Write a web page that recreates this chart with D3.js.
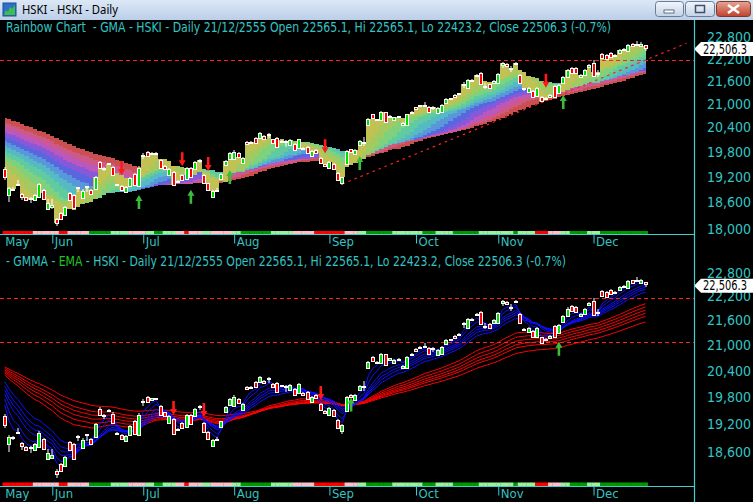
<!DOCTYPE html>
<html><head><meta charset="utf-8">
<script src="https://cdn.jsdelivr.net/npm/d3@7"></script>
<style>
html,body{margin:0;padding:0;background:#000;overflow:hidden}
svg{display:block}
text{font-family:"Liberation Sans Narrow","Arial Narrow","DejaVu Sans Condensed",sans-serif}
</style></head><body>
<svg id="c" width="753" height="502"></svg>
<script>
// ---------------- DATA ----------------
const openP = [19372,18769,18920,19035,18790,18715,18710,18654,18716,18885,18456,18487,18216,18350,18312,18808,18769,18950,18693,18985,
18885,18915,19541,19405,19515,19436,19015,18978,18839,18978,19261,18978,19720,19798,19735,19755,19596,19460,19237,19316,
19100,19237,19150,19410,19380,19600,19237,19040,18730,18875,19150,19470,19630,19610,19760,19517,20030,20000,20144,20140,
20175,20245,20100,20125,20065,20062,19962,19986,19895,19895,19920,19684,19839,19650,19490,19397,19508,19292,19060,19500,
19855,19742,19962,20045,20460,20731,20610,20586,20782,20655,20586,20675,20460,20460,20765,20910,20965,20972,20927,20930,
20765,20800,21030,21140,21230,21270,21530,21404,21610,21760,21805,21470,21511,21537,21537,22030,22045,21940,22050,21760,
21400,21320,21343,21195,21187,21160,21165,21466,21290,21555,21715,21955,21940,21700,21760,21985,22074,21805,22329,22300,
22345,22305,22365,22445,22400,22600,22610,22540,22565.1];
const highP = [19436,18960,18950,19119,18810,18730,18730,18790,19060,18910,18670,18677,18245,18380,18520,18840,18790,18960,18900,18990,
18910,19220,19570,19420,19530,19460,19030,19000,18970,19180,19290,19440,19765,19820,19790,19790,19620,19480,19400,19340,
19110,19260,19430,19430,19560,19620,19260,19060,18890,18932,19280,19600,19780,19850,19780,19660,20050,20060,20170,20275,
20200,20260,20120,20150,20080,20080,20100,20010,20120,19910,19940,19830,19860,19670,19510,19580,19530,19310,19200,19830,
19870,19860,20080,20160,20630,20750,20620,20820,20800,20710,20670,20690,20540,20750,20810,20930,20980,21047,20950,20950,
20905,20990,21140,21160,21250,21290,21560,21650,21650,21790,21830,21537,21530,21625,21800,22100,22070,22001,22110,21780,
21420,21430,21360,21430,21200,21180,21250,21480,21510,21740,21920,21975,21960,21780,21910,22050,22165,21893,22350,22320,
22370,22330,22460,22480,22600,22620,22690,22650,22565.1];
const lowP = [19119,18615,18860,19000,18654,18630,18592,18630,18700,18650,18430,18460,18066,18200,18290,18630,18440,18845,18670,18850,
18770,18900,19380,19325,19480,19215,18990,18860,18820,18960,18980,18960,19610,19670,19720,19740,19380,19360,19215,18980,
19048,19100,19130,19180,19360,19515,19020,18860,18710,18840,19130,19450,19610,19590,19660,19500,19970,19985,20000,20120,
20090,20125,20000,19900,20040,19920,19940,19815,19880,19840,19740,19665,19755,19500,19440,19380,19370,19100,19000,19480,
19780,19720,19940,19937,20440,20610,20580,20570,20520,20640,20570,20650,20440,20440,20750,20840,20940,20950,20780,20841,
20745,20780,21010,21120,21150,21250,21413,21390,21590,21720,21500,21380,21390,21520,21520,21947,21980,21840,22030,21520,
21340,21300,21170,21180,21040,21100,21150,21170,21270,21540,21700,21805,21790,21680,21740,21970,21700,21710,22190,22160,
22230,22270,22350,22430,22380,22520,22580,22520,22423.2];
const closeP = [19183,18925,18905,19030,18730,18654,18700,18769,19018,18670,18592,18540,18140,18216,18500,18654,18464,18945,18870,18975,
18785,19197,19400,19395,19510,19238,19010,18885,18947,19160,19000,19410,19715,19693,19772,19775,19400,19380,19380,19000,
19090,19119,19410,19198,19540,19595,19040,18885,18870,18865,19261,19580,19760,19798,19680,19636,19990,20040,20020,20250,
20110,20240,20020,19920,20055,20058,20085,19839,20100,19855,19757,19806,19773,19515,19455,19555,19388,19119,19183,19806,
19798,19839,20060,20040,20604,20629,20600,20798,20543,20690,20654,20668,20520,20731,20795,20860,20960,20968,20800,20925,
20885,20970,21117,21135,21170,21265,21525,21625,21630,21755,21519,21462,21404,21607,21778,22075,22000,21935,22075,21537,
21390,21410,21187,21413,21060,21120,21230,21187,21490,21715,21893,21822,21805,21760,21893,22030,21725,21800,22210,22180,
22255,22298,22440,22460,22580,22540,22605,22610,22506.3];

const monthLabels = ["May","Jun","Jul","Aug","Sep","Oct","Nov","Dec"];
const monthIdx    = [0, 11, 32, 53, 75, 95, 114, 136];
const topTicks = [18000,18600,19200,19800,20400,21000,21600,22200,22800];
const botTicks = [18600,19200,19800,20400,21000,21600,22200,22800];

// trend-state strip under the bars (runs of bars)
const stripState = ["R","P","R","P","G","L","P","L","G","L","P","R","P","L","P","L","G","L","P","R","P","L","G","L","G","L","G","L","G","L","R","P","L","G","L","G"];
const stripLen   = [7,6,2,5,5,4,4,2,2,3,2,1,3,2,5,2,7,5,5,7,3,2,6,7,3,4,6,8,1,4,3,3,2,4,3,11];

// indicator settings; levels at the first bar
// rainbow (simple averages): band 0 runs from the close to the fastest average, band 10 between the two slowest
const rainbowPeriods = [6,10,14,18,22,26,30,34,38,42,46];
const rainbowStart   = [19524,19635,19747,19861,19974,20088,20204,20319,20437,20553,20670];
const gmmaShortPeriods = [3,5,8,10,12,15];
const gmmaShortStart   = [19625,19759,19871,19961,20052,20143];
const gmmaLongPeriods  = [30,35,40,45,50,60];
const gmmaLongStart    = [20304,20350,20385,20419,20454,20489];

// signal arrows
const topArrowIdx = [27,31,41,43,47,52,74,82,125,129];
const topArrowDir = ["d","u","d","u","d","u","d","u","d","u"];
const topArrowTip = [19240,18770,19445,18890,19330,19356,19759,19693,21420,21230];
const botArrowIdx = [39,46,73,80,128];
const botArrowDir = ["d","d","d","u","u"];
const botArrowTip = [19404,19357,19736,19790,21085];

// guide lines
const trendIdx = [78, 157.5];
const trendVal = [19026, 22625];
const topLevels = [22150];
const botLevels = [22150, 21070];

const lastClose = 22506.3;
const titleTop = "Rainbow Chart  - GMA - HSKI - Daily 21/12/2555 Open 22565.1, Hi 22565.1, Lo 22423.2, Close 22506.3 (-0.7%)";
const titleBotA = "- GMMA - ", titleBotB = "EMA", titleBotC = " - HSKI - Daily 21/12/2555 Open 22565.1, Hi 22565.1, Lo 22423.2, Close 22506.3 (-0.7%)";

// ---------------- RENDER ----------------
const W = 753, H = 502;
const svg = d3.select("#c");
const defs = svg.append("defs");
svg.append("rect").attr("width", W).attr("height", H).attr("fill", "#000");

const N = closeP.length;
const x = d3.scaleLinear().domain([0, 148]).range([4.7, 645.5]);
const step = x(1) - x(0);
const yTop = d3.scaleLog().domain([18000, 22800]).range([229, 37]);
const yBot = d3.scaleLog().domain([18600, 22800]).range([452.3, 272.7]);
const CYAN = "#35c3c3";
const AXIS = "#3fd0d0";
const FONT = "'Liberation Sans Narrow','Arial Narrow','DejaVu Sans Condensed',sans-serif";

function ema(src, period, start) {
  const a = 2 / (period + 1);
  const out = [start];
  for (let i = 1; i < src.length; i++) out.push(out[i - 1] + a * (src[i] - out[i - 1]));
  return out;
}
// simple average; bars before the first one are stood in for by the level read at the first bar
function sma(src, n, prior) {
  return src.map((_, i) => {
    let s = 0;
    for (let j = i - n + 1; j <= i; j++) s += j >= 0 ? src[j] : prior;
    return s / n;
  });
}

defs.append("clipPath").attr("id", "clipTop").append("rect").attr("x", 0).attr("y", 20).attr("width", 694).attr("height", 210);
defs.append("clipPath").attr("id", "clipBot").append("rect").attr("x", 0).attr("y", 252).attr("width", 694).attr("height", 230);

// ---------- title bar ----------
const tg = defs.append("linearGradient").attr("id", "tbar").attr("x1", 0).attr("y1", 0).attr("x2", 0).attr("y2", 1);
tg.append("stop").attr("offset", "0%").attr("stop-color", "#dce8f6");
tg.append("stop").attr("offset", "100%").attr("stop-color", "#bccfe8");
svg.append("rect").attr("x", 0).attr("y", 0).attr("width", W).attr("height", 20).attr("fill", "url(#tbar)");
svg.append("rect").attr("x", 3).attr("y", 3).attr("width", 13).attr("height", 13).attr("fill", "#2f6fc8").attr("stroke", "#1d4f96");
svg.append("path").attr("d", "M4,15 L6,10 L8,12 L10,7 L12,9 L15,5 L15,15 Z").attr("fill", "#3cc04a");
svg.append("text").attr("x", 22).attr("y", 14).attr("font-size", 12).attr("fill", "#000")
  .style("font-family", "'Noto Sans','DejaVu Sans',sans-serif").attr("textLength", 96).attr("lengthAdjust", "spacingAndGlyphs")
  .text("HSKI - HSKI - Daily");
const bg = defs.append("linearGradient").attr("id", "btn").attr("x1", 0).attr("y1", 0).attr("x2", 0).attr("y2", 1);
bg.append("stop").attr("offset", "0%").attr("stop-color", "#f2f6fb");
bg.append("stop").attr("offset", "100%").attr("stop-color", "#c4d3e6");
const rg = defs.append("linearGradient").attr("id", "btnr").attr("x1", 0).attr("y1", 0).attr("x2", 0).attr("y2", 1);
rg.append("stop").attr("offset", "0%").attr("stop-color", "#e8a494");
rg.append("stop").attr("offset", "100%").attr("stop-color", "#c0412c");
svg.append("rect").attr("x", 655.5).attr("y", 1.5).attr("width", 28).attr("height", 15).attr("rx", 3).attr("fill", "url(#btn)").attr("stroke", "#6a7d98");
svg.append("rect").attr("x", 664).attr("y", 10).attr("width", 10).attr("height", 3).attr("fill", "#fff").attr("stroke", "#40506a").attr("stroke-width", 0.8);
svg.append("rect").attr("x", 685.5).attr("y", 1.5).attr("width", 29).attr("height", 15).attr("rx", 3).attr("fill", "url(#btn)").attr("stroke", "#6a7d98");
svg.append("rect").attr("x", 695.5).attr("y", 5.5).attr("width", 9).attr("height", 7).attr("fill", "none").attr("stroke", "#40506a").attr("stroke-width", 1.5);
svg.append("rect").attr("x", 716.5).attr("y", 1.5).attr("width", 34).attr("height", 15).attr("rx", 3).attr("fill", "url(#btnr)").attr("stroke", "#7a3a30");
svg.append("path").attr("d", "M728,5 L739,13 M739,5 L728,13").attr("stroke", "#fff").attr("stroke-width", 2.6);

// ---------- helpers ----------
function drawCandles(g, y) {
  const cg = g.append("g");
  for (let i = 0; i < N; i++) {
    const R = Math.round(x(i));
    const hi = Math.round(y(highP[i])), lo = Math.round(y(lowP[i]));
    cg.append("rect").attr("x", R - 0.5).attr("y", hi).attr("width", 1).attr("height", Math.max(1, lo - hi)).attr("fill", "#fff");
    const t = Math.round(y(Math.max(openP[i], closeP[i])));
    const b = Math.round(y(Math.min(openP[i], closeP[i])));
    const h = Math.max(2, b - t + 1);
    const up = closeP[i] >= openP[i];
    cg.append("rect").attr("x", R - 2).attr("y", t).attr("width", 4).attr("height", h).attr("fill", "#fff");
    if (h > 2) cg.append("rect").attr("x", R - 1).attr("y", t + 1).attr("width", 2).attr("height", h - 2)
      .attr("fill", up ? "#00e000" : "#ff0000");
  }
}
function drawArrows(g, y, idx, dir, tip) {
  idx.forEach((d, k) => {
    const down = dir[k] === "d";
    const s = down ? -1 : 1;
    const p = `M0,0 L-3.5,${6*s} L-1.3,${6*s} L-1.3,${14*s} L1.3,${14*s} L1.3,${6*s} L3.5,${6*s} Z`;
    g.append("path").attr("d", p).attr("transform", `translate(${x(d)},${y(tip[k])})`)
      .attr("fill", down ? "#ff1a1a" : "#3cbc3c");
  });
}
function drawStrip(yPos) {
  const col = { R: "#ff0000", P: "#ffc0cb", G: "#009a00", L: "#9cf29c" };
  let i = 0;
  stripState.forEach((s, k) => {
    for (let j = 0; j < stripLen[k]; j++, i++) {
      svg.append("rect").attr("x", x(i) - step / 2).attr("y", yPos).attr("width", step + 0.3).attr("height", 3.5).attr("fill", col[s]);
    }
  });
}
function drawXAxis(yPos) {
  svg.append("line").attr("x1", 0).attr("x2", 694).attr("y1", yPos).attr("y2", yPos).attr("stroke", AXIS).attr("stroke-width", 1.2);
  const ax = d3.axisBottom(x).tickValues(monthIdx).tickSize(9).tickFormat((d, i) => monthLabels[i]);
  const g = svg.append("g").attr("transform", `translate(0,${yPos})`).call(ax);
  g.select(".domain").remove();
  g.selectAll(".tick line").attr("stroke", AXIS).attr("opacity", (d, i) => i === 0 ? 0 : 1);
  g.selectAll(".tick text").attr("fill", CYAN).attr("font-size", 13).attr("text-anchor", "start")
    .attr("x", (d, i) => i === 0 ? 0 : 2).attr("y", 2).attr("dy", "0.71em").style("font-family", FONT);
}
function drawYAxis(y, ticks) {
  const ax = d3.axisLeft(y).tickValues(ticks).tickSize(0).tickPadding(0).tickFormat(d3.format(","));
  const g = svg.append("g").attr("transform", "translate(751,0)").call(ax);
  g.select(".domain").remove();
  g.selectAll(".tick text").attr("fill", CYAN).attr("font-size", 14).style("font-family", FONT);
}
function priceBox(y) {
  const cy = y(lastClose) + 1.5;
  svg.append("path").attr("d", `M694,${cy} L701,${cy-7} L753,${cy-7} L753,${cy+7} L701,${cy+7} Z`).attr("fill", "#fff");
  svg.append("text").attr("x", 703).attr("y", cy + 4.5).attr("font-size", 13.5).attr("fill", "#000")
    .attr("textLength", 44).attr("lengthAdjust", "spacingAndGlyphs").style("font-family", FONT)
    .text(d3.format(",.1f")(lastClose));
}
function hLevels(g, y, levels) {
  levels.forEach(v => g.append("line").attr("x1", 0).attr("x2", 694).attr("y1", Math.round(y(v)) + 0.5).attr("y2", Math.round(y(v)) + 0.5)
    .attr("stroke", "#ff2020").attr("stroke-width", 1).attr("stroke-dasharray", "4,3"));
}

// ---------- TOP PANEL ----------
svg.append("text").attr("x", 6).attr("y", 32).attr("font-size", 13.5).attr("fill", CYAN).style("white-space", "pre")
  .attr("textLength", 605).attr("lengthAdjust", "spacingAndGlyphs").text(titleTop);
const gTop = svg.append("g").attr("clip-path", "url(#clipTop)");
const rb = [closeP].concat(rainbowPeriods.map((p, k) => sma(closeP, p, rainbowStart[k])));
const rbColors = ["#c2c254","#a2ca60","#7ed27e","#60caa0","#56bac4","#5898da","#5a66de","#8858da","#bc58bc","#ce5886","#ca5050"];
for (let k = rbColors.length - 1; k >= 0; k--) {
  const area = d3.area().x((d, i) => x(i)).y0((d, i) => yTop(rb[k][i])).y1((d, i) => yTop(rb[k + 1][i])).curve(d3.curveStep);
  gTop.append("path").datum(closeP).attr("d", area).attr("fill", rbColors[k]).attr("shape-rendering", "crispEdges");
}
hLevels(gTop, yTop, topLevels);
gTop.append("path").datum(trendIdx.map((d, i) => [x(d), yTop(trendVal[i])])).attr("d", d3.line())
  .attr("stroke", "#ff2020").attr("stroke-width", 1.2).attr("stroke-dasharray", "2.5,4").attr("fill", "none");
drawCandles(gTop, yTop);
drawArrows(gTop, yTop, topArrowIdx, topArrowDir, topArrowTip);
drawStrip(231);
drawXAxis(234.5);
drawYAxis(yTop, topTicks);
priceBox(yTop);

// ---------- BOTTOM PANEL ----------
const bt = svg.append("text").attr("x", 6).attr("y", 266).attr("font-size", 13.5).attr("fill", CYAN).style("white-space", "pre")
  .attr("textLength", 560).attr("lengthAdjust", "spacingAndGlyphs");
bt.append("tspan").text(titleBotA);
bt.append("tspan").attr("fill", "#22c022").text(titleBotB);
bt.append("tspan").text(titleBotC);
const gBot = svg.append("g").attr("clip-path", "url(#clipBot)");
const lineGen = d3.line().x((d, i) => x(i)).y(d => yBot(d));
gmmaLongPeriods.forEach((p, k) => gBot.append("path").datum(ema(closeP, p, gmmaLongStart[k])).attr("d", lineGen)
  .attr("fill", "none").attr("stroke", "#ff0000").attr("stroke-width", 1));
gmmaShortPeriods.forEach((p, k) => gBot.append("path").datum(ema(closeP, p, gmmaShortStart[k])).attr("d", lineGen)
  .attr("fill", "none").attr("stroke", "#1010ff").attr("stroke-width", 1));
hLevels(gBot, yBot, botLevels);
drawCandles(gBot, yBot);
drawArrows(gBot, yBot, botArrowIdx, botArrowDir, botArrowTip);
drawStrip(482.5);
drawXAxis(486.5);
drawYAxis(yBot, botTicks);
priceBox(yBot);

svg.append("line").attr("x1", 694.5).attr("x2", 694.5).attr("y1", 20).attr("y2", H).attr("stroke", AXIS).attr("stroke-width", 1.2);
</script></body></html>
